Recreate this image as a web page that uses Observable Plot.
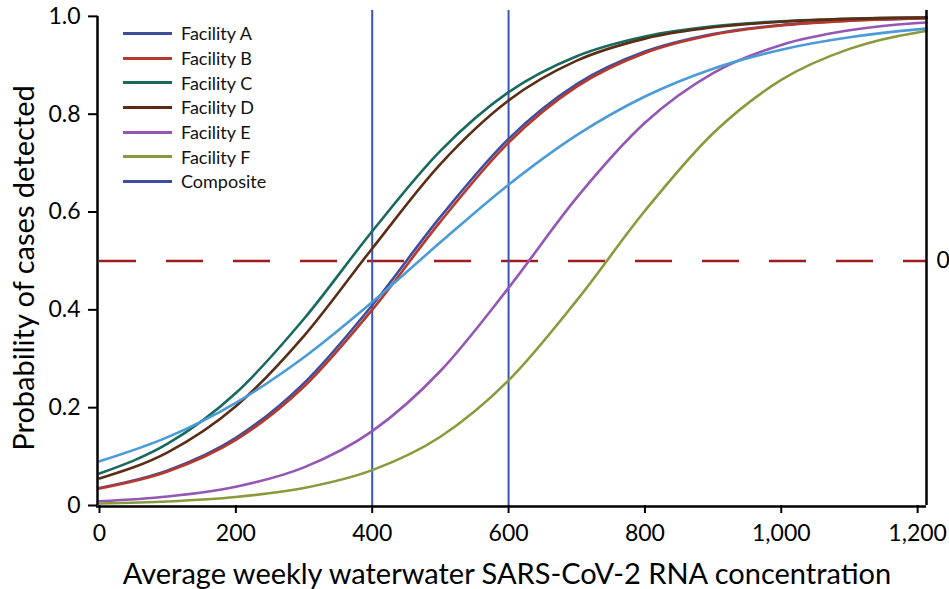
<!DOCTYPE html>
<html><head><meta charset="utf-8">
<script src="https://cdn.jsdelivr.net/npm/d3@7"></script>
<script src="https://cdn.jsdelivr.net/npm/@observablehq/plot@0.6"></script>
<style>
html,body{margin:0;padding:0;background:#fff;}
#wrap{position:relative;width:949px;height:589px;font-family:Lato, sans-serif;}
#legend{position:absolute;left:123px;top:21px;}
.row{display:flex;align-items:center;height:24.7px;}
.sw{width:49px;height:0;border-top:3px solid;margin-right:9px;}
.lab{font-size:18px;color:#111;}
</style></head><body><div id="wrap"><div id="legend"></div></div>
<script>
// concentration values (x) at which each curve was read
const concentration = [0, 100, 200, 300, 400, 500, 600, 700, 800, 900, 1000, 1100, 1200, 1213];
const facilityA = [0.0359, 0.0718, 0.1384, 0.2503, 0.4095, 0.590, 0.7495, 0.8614, 0.928, 0.964, 0.9824, 0.9914, 0.9959, 0.9962];
const facilityB = [0.0347, 0.0694, 0.1341, 0.2432, 0.400, 0.5805, 0.742, 0.8563, 0.9252, 0.9625, 0.9816, 0.991, 0.9957, 0.9960];
const facilityC = [0.0654, 0.1263, 0.230, 0.3818, 0.5607, 0.725, 0.845, 0.9185, 0.9588, 0.9796, 0.990, 0.9952, 0.9977, 0.9979];
const facilityD = [0.0553, 0.1088, 0.203, 0.3468, 0.5255, 0.698, 0.828, 0.9094, 0.9545, 0.9776, 0.9891, 0.9948, 0.9975, 0.9977];
const facilityE = [0.0088, 0.0185, 0.0385, 0.078, 0.152, 0.275, 0.445, 0.6295, 0.7825, 0.884, 0.9416, 0.9715, 0.9864, 0.9876];
const facilityF = [0.004, 0.0083, 0.0174, 0.0358, 0.0723, 0.1406, 0.2558, 0.4193, 0.6025, 0.761, 0.870, 0.9335, 0.9672, 0.970];
const composite = [0.0903, 0.1397, 0.210, 0.3031, 0.4158, 0.538, 0.6559, 0.7572, 0.8362, 0.8931, 0.9318, 0.9572, 0.9734, 0.975];

const seriesNames = ["Facility A", "Facility B", "Facility C", "Facility D", "Facility E", "Facility F", "Composite"];
const seriesValues = [facilityA, facilityB, facilityC, facilityD, facilityE, facilityF, composite];
const seriesColors = ["#3D4E9E", "#B8392C", "#186A5E", "#5A2D14", "#9457B3", "#889A3B", "#4A9BD8"];
const legendColors = ["#3D4E9E", "#B8392C", "#186A5E", "#5A2D14", "#9457B3", "#889A3B", "#3D4E9E"];

const thresholds = [400, 600];
const detectionLevel = [0.5];
const xTicks = [0, 200, 400, 600, 800, 1000, 1200];
const yTicks = [0, 0.2, 0.4, 0.6, 0.8, 1.0];
const xMax = 1213;
const yMax = 1.012;
const xTitle = "Average weekly waterwater SARS-CoV-2 RNA concentration";
const yTitle = "Probability of cases detected";

const rows = [];
seriesNames.forEach((s, i) => concentration.forEach((x, j) => rows.push({series: s, x, p: seriesValues[i][j]})));

const plot = Plot.plot({
  width: 949, height: 589,
  marginLeft: 97, marginRight: 23, marginTop: 10, marginBottom: 84,
  insetLeft: 2,
  style: {fontFamily: "Lato, sans-serif", color: "#000", background: "transparent", overflow: "visible"},
  x: {domain: [0, xMax]},
  y: {domain: [0, yMax]},
  color: {domain: seriesNames, range: seriesColors},
  marks: [
    Plot.ruleY(detectionLevel, {x1: 0, x2: xMax, stroke: "#9E1B1E", strokeWidth: 2.5, strokeDasharray: "37,30"}),
    Plot.ruleX(thresholds, {y1: 0, y2: yMax, stroke: "#3B55B5", strokeWidth: 2}),
    Plot.line(rows, {x: "x", y: "p", z: "series", stroke: "series", strokeWidth: 2.6, curve: "monotone-x"}),
    Plot.ruleX([0], {y1: 0, y2: 1, stroke: "#000", strokeWidth: 2.5, dx: -2}),
    Plot.ruleX([xMax], {y1: 0, y2: yMax, stroke: "#000", strokeWidth: 2.5}),
    Plot.ruleY([0], {x1: 0, x2: xMax, stroke: "#000", strokeWidth: 2.5, dy: 1, insetLeft: -3}),
    Plot.axisX({ticks: xTicks, tickFormat: d3.format(","), tickSize: 8, tickPadding: 11, fontSize: 23, strokeWidth: 2, label: null}),
    Plot.axisY({ticks: yTicks, tickFormat: d => d === 0 ? "0" : d.toFixed(1), tickSize: 9, tickPadding: 8, fontSize: 23, strokeWidth: 2, label: null}),
    Plot.text(detectionLevel, {x: xMax, y: d => d, text: d => String(d), dx: 10, textAnchor: "start", fontSize: 23}),
    Plot.text([xTitle], {frameAnchor: "bottom", lineAnchor: "bottom", dy: 78, dx: -5, fontSize: 29}),
    Plot.text([yTitle], {frameAnchor: "left", textAnchor: "middle", rotate: -90, dx: -73, dy: 10, fontSize: 29})
  ]
});
document.getElementById("wrap").prepend(plot);

const legend = document.getElementById("legend");
seriesNames.forEach((s, i) => {
  const r = document.createElement("div"); r.className = "row";
  const sw = document.createElement("div"); sw.className = "sw"; sw.style.borderTopColor = legendColors[i];
  const lb = document.createElement("div"); lb.className = "lab"; lb.textContent = s;
  r.append(sw, lb); legend.append(r);
});
</script></body></html>
